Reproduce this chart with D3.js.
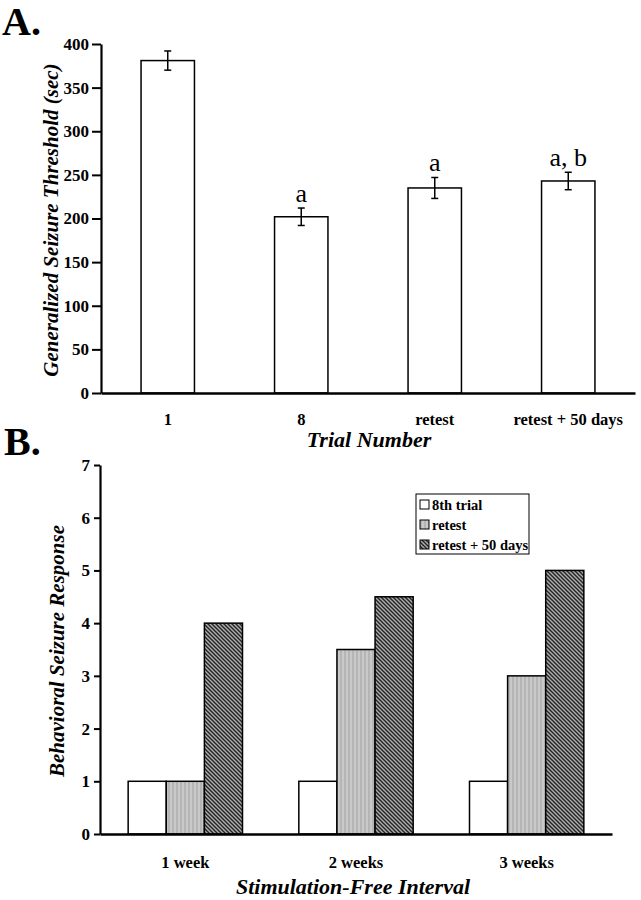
<!DOCTYPE html>
<html>
<head>
<meta charset="utf-8">
<script src="https://cdn.jsdelivr.net/npm/d3@7"></script>
<style>
  html, body { margin: 0; padding: 0; background: #fff; }
  svg { display: block; }
  text { font-family: "Liberation Serif", "Times New Roman", serif; fill: #000; }
</style>
</head>
<body>
<script>
// ---------- Panel A data ----------
const trialCats = ["1", "8", "retest", "retest + 50 days"];
const thresholdMeans = [381, 202, 235, 243];
const thresholdSEM = [11, 10, 12, 10];
const sigLabels = ["", "a", "a", "a, b"];
const thresholdTicks = [0, 50, 100, 150, 200, 250, 300, 350, 400];

// ---------- Panel B data ----------
const intervalCats = ["1 week", "2 weeks", "3 weeks"];
const seriesNames = ["8th trial", "retest", "retest + 50 days"];
const trial8Values = [1, 1, 1];
const retestValues = [1, 3.5, 3];
const retest50Values = [4, 4.5, 5];
const responseTicks = [0, 1, 2, 3, 4, 5, 6, 7];

const W = 641, H = 900;
const svg = d3.select("body").append("svg").attr("width", W).attr("height", H);

// patterns
const defs = svg.append("defs");
const pGray = defs.append("pattern").attr("id", "pGray").attr("patternUnits", "userSpaceOnUse")
  .attr("width", 4).attr("height", 4);
pGray.append("rect").attr("width", 4).attr("height", 4).attr("fill", "#c9c9c9");
pGray.append("line").attr("x1", 1).attr("y1", 0).attr("x2", 1).attr("y2", 4)
  .attr("stroke", "#a2a2a2").attr("stroke-width", 1);
const pDark = defs.append("pattern").attr("id", "pDark").attr("patternUnits", "userSpaceOnUse")
  .attr("width", 4).attr("height", 4);
pDark.append("rect").attr("width", 4).attr("height", 4).attr("fill", "#b0b0b0");
pDark.append("path").attr("d", "M-1,-1 L5,5 M-1,3 L1,5 M3,-1 L5,1")
  .attr("stroke", "#262626").attr("stroke-width", 1.5);
const fills = ["#ffffff", "url(#pGray)", "url(#pDark)"];

// ---------- Panel labels ----------
svg.append("text").attr("x", 2).attr("y", 35).attr("font-size", 40).attr("font-weight", "bold").text("A.");
svg.append("text").attr("x", 4).attr("y", 455).attr("font-size", 40).attr("font-weight", "bold").text("B.");

// ---------- Panel A ----------
{
  const x = d3.scaleBand().domain(trialCats).range([101, 635]).paddingInner(0.6).paddingOuter(0.3);
  const y = d3.scaleLinear().domain([0, 400]).range([393, 44]);
  const g = svg.append("g");

  const yAxis = g.append("g").attr("transform", "translate(101,0)")
    .call(d3.axisLeft(y).tickValues(thresholdTicks).tickSize(9).tickSizeOuter(0).tickPadding(3));
  yAxis.select(".domain").attr("stroke-width", 2.2);
  yAxis.selectAll(".tick line").attr("stroke-width", 2);
  yAxis.selectAll("text").attr("font-size", 17).attr("font-weight", "bold")
    .attr("font-family", "Liberation Serif, serif");

  // bars
  g.selectAll("rect.barA").data(thresholdMeans).join("rect").attr("class", "barA")
    .attr("x", (d, i) => x(trialCats[i])).attr("width", x.bandwidth())
    .attr("y", d => y(d)).attr("height", d => y(0) - y(d))
    .attr("fill", "#fff").attr("stroke", "#000").attr("stroke-width", 1.5);

  // error bars
  const eb = g.selectAll("g.err").data(thresholdMeans).join("g").attr("class", "err");
  eb.append("line")
    .attr("x1", (d, i) => x(trialCats[i]) + x.bandwidth() / 2)
    .attr("x2", (d, i) => x(trialCats[i]) + x.bandwidth() / 2)
    .attr("y1", (d, i) => y(d + thresholdSEM[i])).attr("y2", (d, i) => y(d - thresholdSEM[i]))
    .attr("stroke", "#000").attr("stroke-width", 1.5);
  [1, -1].forEach(s => {
    eb.append("line")
      .attr("x1", (d, i) => x(trialCats[i]) + x.bandwidth() / 2 - 3.5)
      .attr("x2", (d, i) => x(trialCats[i]) + x.bandwidth() / 2 + 3.5)
      .attr("y1", (d, i) => y(d + s * thresholdSEM[i])).attr("y2", (d, i) => y(d + s * thresholdSEM[i]))
      .attr("stroke", "#000").attr("stroke-width", 1.5);
  });

  // significance letters
  g.selectAll("text.sig").data(thresholdMeans).join("text").attr("class", "sig")
    .attr("x", (d, i) => x(trialCats[i]) + x.bandwidth() / 2)
    .attr("y", (d, i) => y(d + thresholdSEM[i]) - 6)
    .attr("text-anchor", "middle").attr("font-size", 26)
    .text((d, i) => sigLabels[i]);

  // x axis
  const xAxis = g.append("g").attr("transform", "translate(0,393)")
    .call(d3.axisBottom(x).tickSize(0).tickSizeOuter(0).tickPadding(20));
  xAxis.select(".domain").attr("stroke-width", 2.6);
  xAxis.selectAll("text").attr("font-size", 16.5).attr("font-weight", "bold")
    .attr("font-family", "Liberation Serif, serif");

  svg.append("text").attr("x", 369).attr("y", 447).attr("text-anchor", "middle")
    .attr("font-size", 22).attr("font-weight", "bold").attr("font-style", "italic")
    .text("Trial Number");
  svg.append("text").attr("transform", "translate(58,220) rotate(-90)").attr("text-anchor", "middle")
    .attr("font-size", 21).attr("font-weight", "bold").attr("font-style", "italic")
    .text("Generalized Seizure Threshold (sec)");
}

// ---------- Panel B ----------
{
  const x0 = d3.scaleBand().domain(intervalCats).range([100, 612]).paddingInner(0.33).paddingOuter(0.165);
  const x1 = d3.scaleBand().domain(seriesNames).range([0, x0.bandwidth()]);
  const y = d3.scaleLinear().domain([0, 7]).range([834, 465]);
  const g = svg.append("g");
  const seriesVals = [trial8Values, retestValues, retest50Values];

  const yAxis = g.append("g").attr("transform", "translate(100,0)")
    .call(d3.axisLeft(y).tickValues(responseTicks).tickSize(6).tickSizeOuter(0).tickPadding(4).tickFormat(d3.format("d")));
  yAxis.select(".domain").attr("stroke-width", 2.2);
  yAxis.selectAll(".tick line").attr("stroke-width", 2);
  yAxis.selectAll("text").attr("font-size", 17).attr("font-weight", "bold")
    .attr("font-family", "Liberation Serif, serif");

  seriesNames.forEach((s, si) => {
    g.selectAll("rect.s" + si).data(seriesVals[si]).join("rect").attr("class", "s" + si)
      .attr("x", (d, i) => x0(intervalCats[i]) + x1(s)).attr("width", x1.bandwidth())
      .attr("y", d => y(d)).attr("height", d => y(0) - y(d))
      .attr("fill", fills[si]).attr("stroke", "#000").attr("stroke-width", 1.5);
  });

  const xAxis = g.append("g").attr("transform", "translate(0,834)")
    .call(d3.axisBottom(x0).tickSize(0).tickSizeOuter(0).tickPadding(22));
  xAxis.select(".domain").attr("stroke-width", 2.6);
  xAxis.selectAll("text").attr("font-size", 16.5).attr("font-weight", "bold")
    .attr("font-family", "Liberation Serif, serif");

  svg.append("text").attr("x", 353).attr("y", 894).attr("text-anchor", "middle")
    .attr("font-size", 22).attr("font-weight", "bold").attr("font-style", "italic")
    .text("Stimulation-Free Interval");
  svg.append("text").attr("transform", "translate(64,651) rotate(-90)").attr("text-anchor", "middle")
    .attr("font-size", 21).attr("font-weight", "bold").attr("font-style", "italic")
    .text("Behavioral Seizure Response");

  // legend
  const lg = svg.append("g").attr("transform", "translate(416,494)");
  lg.append("rect").attr("width", 113).attr("height", 60).attr("fill", "#fff")
    .attr("stroke", "#000").attr("stroke-width", 1);
  seriesNames.forEach((s, i) => {
    lg.append("rect").attr("x", 4).attr("y", 6 + i * 20).attr("width", 9).attr("height", 9)
      .attr("fill", fills[i]).attr("stroke", "#000").attr("stroke-width", 1);
    lg.append("text").attr("x", 16).attr("y", 15.5 + i * 20).attr("font-size", 14.5)
      .attr("font-weight", "bold").text(s);
  });
}
</script>
</body>
</html>
